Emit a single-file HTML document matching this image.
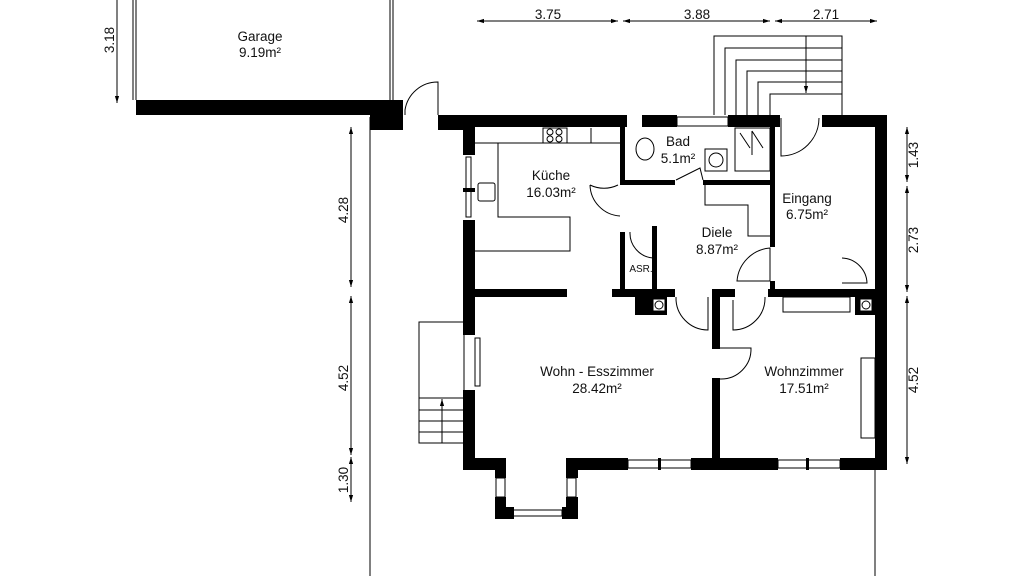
<!DOCTYPE html><html><head><style>body{margin:0;background:#fff}svg{display:block}text{font-family:"Liberation Sans",sans-serif;font-size:13.5px;fill:#111}</style></head><body>
<svg width="1024" height="576" viewBox="0 0 1024 576" xmlns="http://www.w3.org/2000/svg">
<defs><marker id="a" viewBox="0 0 10 10" refX="10" refY="5" markerWidth="7" markerHeight="7" orient="auto-start-reverse"><path d="M0,2L10,5L0,8z" fill="#000"/></marker></defs>
<g stroke="#000" stroke-width="1" fill="none">
<line x1="477" y1="21" x2="618" y2="21" marker-start="url(#a)" marker-end="url(#a)"/>
<line x1="623" y1="21" x2="770" y2="21" marker-start="url(#a)" marker-end="url(#a)"/>
<line x1="775" y1="21" x2="877" y2="21" marker-start="url(#a)" marker-end="url(#a)"/>
<line x1="117" y1="0" x2="117" y2="103" marker-end="url(#a)"/>
<line x1="351" y1="127" x2="351" y2="287" marker-start="url(#a)" marker-end="url(#a)"/>
<line x1="351" y1="296" x2="351" y2="455" marker-start="url(#a)" marker-end="url(#a)"/>
<line x1="351" y1="457" x2="351" y2="502" marker-start="url(#a)" marker-end="url(#a)"/>
<line x1="370" y1="117" x2="370" y2="576"/>
<line x1="875" y1="465" x2="875" y2="576"/>
<line x1="907" y1="127" x2="907" y2="182" marker-start="url(#a)" marker-end="url(#a)"/>
<line x1="907" y1="186" x2="907" y2="292" marker-start="url(#a)" marker-end="url(#a)"/>
<line x1="907" y1="296" x2="907" y2="464" marker-start="url(#a)" marker-end="url(#a)"/>
<line x1="133" y1="0" x2="133" y2="100"/><line x1="136" y1="0" x2="136" y2="100"/>
<line x1="390" y1="0" x2="390" y2="100"/><line x1="393" y1="0" x2="393" y2="100"/>
<path d="M405,115 L405,110 A33,33 0 0 1 438,82 L438,115"/>
<path d="M714,115V36H842V115"/><path d="M725,115V48H842"/><path d="M736,115V60H842"/><path d="M747,115V71H842"/><path d="M758,115V82H842"/><path d="M770,115V94H842"/>
<line x1="806" y1="36" x2="806" y2="93" marker-end="url(#a)"/>
<rect x="419" y="322" width="45" height="121"/>
<line x1="419" y1="398" x2="464" y2="398"/><line x1="419" y1="410" x2="464" y2="410"/><line x1="419" y1="421" x2="464" y2="421"/><line x1="419" y1="432" x2="464" y2="432"/>
<line x1="442" y1="443" x2="442" y2="399" marker-end="url(#a)"/>
<path d="M475,143H620"/><rect x="543" y="128" width="24" height="15"/><line x1="591" y1="128" x2="591" y2="143"/>
<circle cx="550" cy="132" r="3"/><circle cx="559" cy="132" r="3"/><circle cx="550" cy="139" r="3"/><circle cx="559" cy="139" r="3"/>
<path d="M498,143V217H570V251H475"/>
<rect x="478" y="183" width="17" height="18" rx="2"/>
<rect x="466" y="157" width="5" height="60"/>
<ellipse cx="645" cy="149" rx="9" ry="11"/><rect x="705" y="149" width="22" height="22"/><circle cx="716" cy="160" r="7"/>
<rect x="735" y="128" width="35" height="43"/><path d="M740,133L750,148M752,131V155M752,131L763,148"/>
<path d="M676,180L700,168L703,180"/>
<path d="M618,185 A32,32 0 0 1 590,185 M590,185 A32,32 0 0 0 620,216"/>
<path d="M705,184V205H748V236H770"/>
<path d="M630,232A25,25 0 0 0 653,258V232"/>
<path d="M781,118V156A38,38 0 0 0 819,118"/>
<path d="M737,281A36,36 0 0 1 770,248V281Z"/>
<path d="M842,258A26,26 0 0 1 867,283H842"/>
<path d="M676,297A32,32 0 0 0 708,330V297"/>
<path d="M733,300V330A32,32 0 0 0 765,297"/>
<path d="M720,348H751A30,30 0 0 1 720,379"/>
<rect x="783" y="297" width="67" height="15"/>
<rect x="861" y="358" width="14" height="80"/>
<rect x="475" y="338" width="5" height="48"/>
<rect x="496" y="478" width="9" height="19"/><rect x="567" y="478" width="9" height="19"/>
</g>
<g fill="#000">
<rect x="136" y="100" width="256" height="15"/>
<rect x="370" y="100" width="33" height="30"/>
<rect x="438" y="115" width="37" height="15"/>
<rect x="463" y="115" width="164" height="12"/>
<rect x="642" y="115" width="35" height="12"/>
<rect x="728" y="115" width="52" height="12"/>
<rect x="822" y="115" width="65" height="12"/>
<rect x="463" y="115" width="12" height="40"/><rect x="463" y="188" width="12" height="4"/><rect x="463" y="220" width="12" height="115"/><rect x="463" y="390" width="12" height="80"/>
<rect x="875" y="115" width="12" height="355"/>
<rect x="463" y="458" width="43" height="12"/><rect x="566" y="458" width="62" height="12"/><rect x="691" y="458" width="87" height="12"/><rect x="840" y="458" width="47" height="12"/>
<rect x="495" y="458" width="11" height="20"/><rect x="566" y="458" width="12" height="20"/>
<rect x="495" y="497" width="11" height="22"/><rect x="566" y="497" width="12" height="22"/>
<rect x="495" y="507" width="19" height="12"/><rect x="562" y="507" width="16" height="12"/>
<rect x="658" y="458" width="3" height="12"/><rect x="806" y="458" width="3" height="12"/>
<rect x="620" y="127" width="5" height="58"/>
<rect x="620" y="180" width="55" height="5"/><rect x="703" y="180" width="72" height="5"/>
<rect x="770" y="127" width="5" height="120"/><rect x="770" y="281" width="5" height="16"/>
<rect x="475" y="289" width="92" height="8"/>
<rect x="612" y="289" width="63" height="8"/><rect x="635" y="297" width="32" height="18"/>
<rect x="620" y="232" width="5" height="60"/><rect x="652" y="226" width="5" height="66"/>
<rect x="712" y="289" width="23" height="8"/><rect x="768" y="289" width="119" height="8"/>
<rect x="712" y="289" width="8" height="60"/><rect x="712" y="378" width="8" height="92"/>
<rect x="855" y="297" width="20" height="18"/>
</g>
<g fill="#fff" stroke="#000"><rect x="653" y="299" width="12" height="12"/><rect x="860" y="299" width="12" height="12"/></g>
<g fill="none" stroke="#000"><circle cx="659" cy="305" r="4"/><circle cx="866" cy="305" r="4"/>
<rect x="506" y="510" width="56" height="6"/><rect x="628" y="460" width="63" height="8"/><rect x="778" y="460" width="62" height="8"/><rect x="677" y="117" width="51" height="9"/></g>
<g text-anchor="middle">
<text x="548" y="19">3.75</text><text x="697" y="19">3.88</text><text x="826" y="19">2.71</text>
<text x="260" y="41">Garage</text><text x="260" y="57">9.19m²</text>
<text x="551" y="180">Küche</text><text x="551" y="197">16.03m²</text>
<text x="678" y="146">Bad</text><text x="678" y="163">5.1m²</text>
<text x="807" y="203">Eingang</text><text x="807" y="219">6.75m²</text>
<text x="717" y="237">Diele</text><text x="717" y="254">8.87m²</text>
<text x="641" y="272" style="font-size:10px">ASR.</text>
<text x="597" y="376">Wohn - Esszimmer</text><text x="597" y="393">28.42m²</text>
<text x="804" y="376">Wohnzimmer</text><text x="804" y="393">17.51m²</text>
<text transform="translate(114,40) rotate(-90)">3.18</text>
<text transform="translate(348,210) rotate(-90)">4.28</text>
<text transform="translate(348,378) rotate(-90)">4.52</text>
<text transform="translate(348,480) rotate(-90)">1.30</text>
<text transform="translate(918,155) rotate(-90)">1.43</text>
<text transform="translate(918,240) rotate(-90)">2.73</text>
<text transform="translate(918,380) rotate(-90)">4.52</text>
</g>
</svg></body></html>
